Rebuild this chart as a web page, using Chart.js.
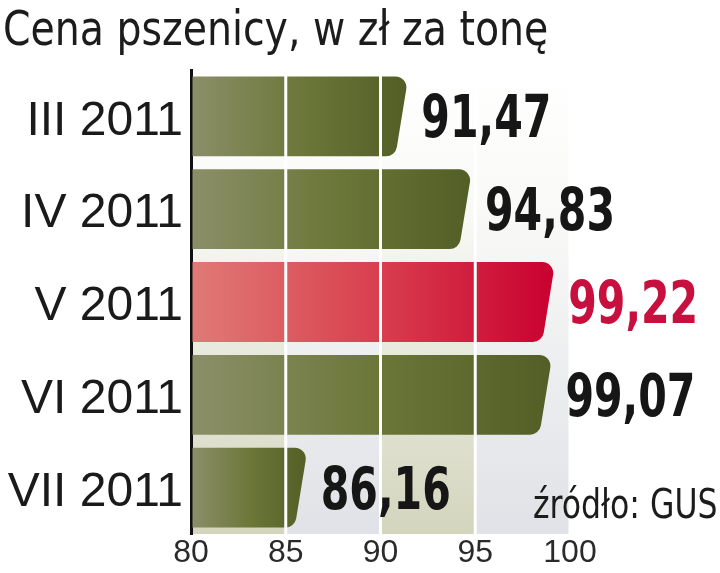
<!DOCTYPE html>
<html>
<head>
<meta charset="utf-8">
<script src="https://cdn.jsdelivr.net/npm/chart.js@4.4.1/dist/chart.umd.min.js"></script>
<style>
html,body{margin:0;padding:0;background:#fff}
#wrap{position:relative;width:720px;height:573px;overflow:hidden}
canvas{position:absolute;left:0;top:0}
#title{position:absolute;left:3px;top:4px;font-size:48px;line-height:48px;font-family:'Liberation Sans Narrow','DejaVu Sans Condensed',sans-serif;color:#1c1c1c;white-space:nowrap;transform-origin:left top}
#source{position:absolute;right:2px;top:484px;font-size:40px;line-height:40px;font-family:'Liberation Sans Narrow','DejaVu Sans Condensed',sans-serif;color:#1c1c1c;white-space:nowrap;transform-origin:right top}
</style>
</head>
<body>
<div id="wrap">
<canvas id="chart" width="720" height="573"></canvas>
<div id="title">Cena pszenicy, w zł za tonę</div>
<div id="source">źródło: GUS</div>
</div>
<script>
const months = ['III 2011','IV 2011','V 2011','VI 2011','VII 2011']
const prices = [91.47, 94.83, 99.22, 99.07, 86.16]
const xTicks = [80, 85, 90, 95, 100]
const highlight = 'V 2011'

const NARROW = "'Liberation Sans Narrow','DejaVu Sans Condensed',sans-serif"

function fmt(v){
return v.toFixed(2).replace('.',',')
}

// squeeze a text block to the width it has in the print
function fitWidth(id,w){
let el = document.getElementById(id)
el.style.transform = 'scaleX('+(w/el.offsetWidth)+')'
}

// grey/tan backdrop behind the bars
const backdrop = {
id:'backdrop',
beforeDraw(chart){

const {ctx, chartArea:a, scales:{x}} = chart

for(let i=0;i<xTicks.length-1;i++){

let l = x.getPixelForValue(xTicks[i])
let r = x.getPixelForValue(xTicks[i+1])
let g = ctx.createLinearGradient(0,a.top,0,a.bottom)
g.addColorStop(0,'#ffffff')
g.addColorStop(0.3,'#f9f9f7')
g.addColorStop(1, i%2==0 ? '#d3d5bd' : '#e0e2e7')
ctx.fillStyle = g
ctx.fillRect(l,a.top,r-l,a.bottom-a.top)

}

}
}

// slanted bars, white grid over them, value labels
const bars = {
id:'bars',
afterDatasetsDraw(chart){

const {ctx, chartArea:a, scales:{x}} = chart
const meta = chart.getDatasetMeta(0)

ctx.save()

meta.data.forEach((bar,i)=>{

let hot = months[i]==highlight
let h = bar.height
let top = bar.y-h/2
let bot = bar.y+h/2
let x0 = bar.base+1.5
let x1 = bar.x
let slant = 13
let r = 11

let g = ctx.createLinearGradient(x0,0,x1,0)
if(hot){
g.addColorStop(0,'#e07a76')
g.addColorStop(0.5,'#d9404f')
g.addColorStop(1,'#c9002f')
}else{
g.addColorStop(0,'#8b8f68')
g.addColorStop(0.5,'#6c7739')
g.addColorStop(1,'#515e25')
}

ctx.fillStyle = g
ctx.beginPath()
ctx.moveTo(x0,top)
ctx.arcTo(x1,top,x1-slant,bot,r)
ctx.arcTo(x1-slant,bot,x0,bot,r)
ctx.lineTo(x0,bot)
ctx.closePath()
ctx.fill()

})

ctx.strokeStyle = '#ffffff'
ctx.lineWidth = 3
xTicks.slice(1).forEach(t=>{
let px = x.getPixelForValue(t)
ctx.beginPath()
ctx.moveTo(px,a.top)
ctx.lineTo(px,a.bottom)
ctx.stroke()
})

ctx.font = 'bold 59px '+NARROW
ctx.textBaseline = 'alphabetic'
ctx.textAlign = 'left'
// labels in the print are ~130px wide for 5 characters
let squeeze = 130/ctx.measureText(fmt(prices[0])).width
meta.data.forEach((bar,i)=>{
ctx.save()
ctx.translate(bar.x+13, bar.y+21)
ctx.scale(squeeze,1)
ctx.fillStyle = months[i]==highlight ? '#c8103e' : '#161616'
ctx.fillText(fmt(prices[i]),0,0)
ctx.restore()
})

ctx.restore()

}
}

function draw(){

fitWidth('title',545)
fitWidth('source',185)

new Chart(document.getElementById('chart'),{
type:'bar',
data:{
labels:months,
datasets:[{
data:prices,
base:80,
backgroundColor:'rgba(0,0,0,0)',
barPercentage:0.86,
categoryPercentage:1
}]
},
options:{
responsive:false,
animation:false,
indexAxis:'y',
layout:{padding:{top:70,right:150,left:0,bottom:0}},
plugins:{legend:{display:false},tooltip:{enabled:false}},
scales:{
x:{
min:xTicks[0],
max:xTicks[xTicks.length-1],
ticks:{stepSize:5,color:'#2a2a2a',padding:0,font:{family:'Liberation Sans',size:32}},
grid:{display:false,drawTicks:false},
border:{display:false},
afterFit(s){s.height=39}
},
y:{
ticks:{color:'#1a1a1a',padding:8,labelOffset:5,font:{family:'Liberation Sans',size:48}},
grid:{display:false,drawTicks:false},
border:{display:true,color:'#111111',width:3},
afterFit(s){s.width=191}
}
}
},
plugins:[backdrop,bars]
})

}

Promise.all([
document.fonts.load("48px 'DejaVu Sans Condensed'"),
document.fonts.load("bold 59px 'DejaVu Sans Condensed'"),
document.fonts.load("48px 'Liberation Sans'")
]).then(draw,draw)
</script>
</body>
</html>
